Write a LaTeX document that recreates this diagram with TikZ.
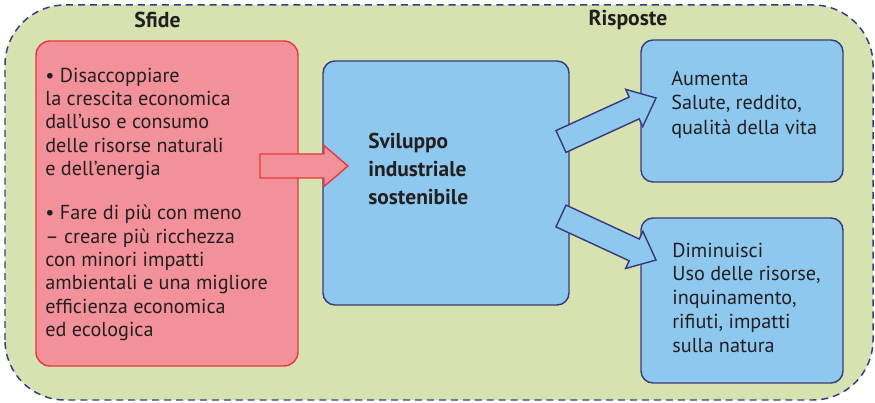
\documentclass[tikz,border=0pt]{standalone}
\usepackage{fontspec}
\setmainfont{PT Sans}
\usetikzlibrary{calc}

\definecolor{panelgreen}{RGB}{214,227,176}
\definecolor{panelnavy}{RGB}{62,58,130}
\definecolor{fillred}{RGB}{242,145,153}
\definecolor{edgered}{RGB}{232,56,61}
\definecolor{fillblue}{RGB}{142,200,239}
\definecolor{edgenavy}{RGB}{58,56,120}
\definecolor{textgray}{RGB}{35,31,32}

\begin{document}
\begin{tikzpicture}[
    panel/.style={draw=panelnavy, fill=panelgreen, line width=0.85pt,
                  dash pattern=on 4pt off 2.8pt, rounded corners=1.2cm},
    challenge/.style={draw=edgered, fill=fillred, line width=0.8pt,
                      rounded corners=0.28cm, inner sep=0pt},
    answer/.style={draw=edgenavy, fill=fillblue, line width=0.8pt,
                   rounded corners=0.24cm, inner sep=0pt},
    txt/.style={font=\fontsize{11.5}{13.3}\selectfont, text=textgray,
                align=left, inner sep=0pt, anchor=north west},
    hdr/.style={font=\fontsize{12.3}{14}\selectfont\bfseries, text=textgray},
    blockarrow/.style={line width=0.8pt, to path={
        ($(\tikztostart)!0.24cm!90:(\tikztotarget)$)
        -- ($($(\tikztotarget)!0.48cm!(\tikztostart)$)!0.24cm!90:(\tikztotarget)$)
        -- ($($(\tikztotarget)!0.48cm!(\tikztostart)$)!0.41cm!90:(\tikztotarget)$)
        -- (\tikztotarget)
        -- ($($(\tikztotarget)!0.48cm!(\tikztostart)$)!0.41cm!-90:(\tikztotarget)$)
        -- ($($(\tikztotarget)!0.48cm!(\tikztostart)$)!0.24cm!-90:(\tikztotarget)$)
        -- ($(\tikztostart)!0.24cm!-90:(\tikztotarget)$) -- cycle}},
    redarrow/.style={blockarrow, draw=edgered, fill=fillred},
    bluearrow/.style={blockarrow, draw=edgenavy, fill=fillblue}
]

\useasboundingbox (0,0) rectangle (17.5,8.06);

% --- Background panel ---
\draw[panel] (0.1,0.06) rectangle (17.46,7.96);

% --- Headers ---
\node[hdr] (sfide) at (3.15,7.66) {Sfide};
\node[hdr] (risposte) at (12.56,7.66) {Risposte};

% --- Boxes ---
\node[challenge, minimum width=5.24cm, minimum height=6.5cm] (sfbox) at (3.34,3.99) {};
\node[answer, minimum width=4.92cm, minimum height=4.88cm] (core) at (8.92,4.40) {};
\node[answer, minimum width=4.04cm, minimum height=2.84cm] (up) at (14.84,5.84) {};
\node[answer, minimum width=4.04cm, minimum height=3.3cm] (down) at (14.84,2.05) {};

% --- Arrows ---
\coordinate (ra1) at (5.2,4.74);
\coordinate (ra2) at (6.96,4.74);
\coordinate (ua1) at (11.22,5.23);
\coordinate (ua2) at (13.12,6.1);
\coordinate (da1) at (11.22,3.74);
\coordinate (da2) at (13.12,2.86);
\draw[redarrow] (ra1) to (ra2);
\draw[bluearrow] (ua1) to (ua2);
\draw[bluearrow] (da1) to (da2);

% --- Texts ---
\node[txt] (sftext) at (0.9,6.71)
    {• Disaccoppiare\\la crescita economica\\dall’uso e consumo\\delle risorse naturali\\e dell’energia\\[11.8pt]
     • Fare di più con meno\\– creare più ricchezza\\con minori impatti\\ambientali e una migliore\\efficienza economica\\ed ecologica};
\node[txt, font=\fontsize{12.2}{15.9}\selectfont\bfseries] (coretext) at (7.36,5.40)
    {Sviluppo\\industriale\\sostenibile};
\node[txt, font=\fontsize{11.5}{13.9}\selectfont] (uptext) at (13.42,6.65)
    {Aumenta\\Salute, reddito,\\qualità della vita};
\node[txt, font=\fontsize{11.5}{13.5}\selectfont] (downtext) at (13.44,3.21)
    {Diminuisci\\Uso delle risorse,\\inquinamento,\\rifiuti, impatti\\sulla natura};

\end{tikzpicture}
\end{document}
